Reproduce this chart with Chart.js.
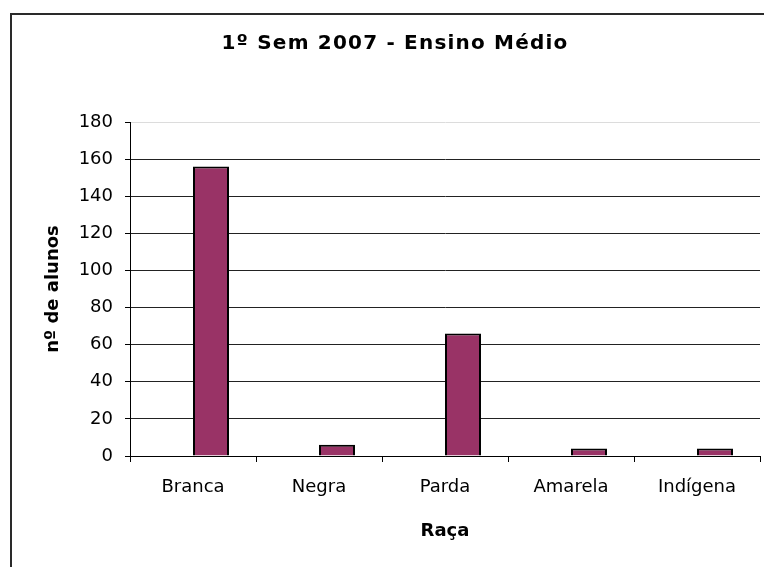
<!DOCTYPE html>
<html lang="pt-BR">
<head>
<meta charset="UTF-8">
<title>1º Sem 2007 - Ensino Médio</title>
<script src="https://cdn.jsdelivr.net/npm/chart.js@4.4.1/dist/chart.umd.min.js"></script>
<style>
  html, body { margin: 0; padding: 0; background: #fff; }
  body { width: 764px; height: 567px; position: relative; overflow: hidden; }
  /* moldura do gráfico (só esquerda e topo aparecem no recorte) */
  .moldura {
    position: absolute; left: 10px; top: 13px; width: 800px; height: 600px;
    border-left: 2px solid #2a2a2a; border-top: 2px solid #2a2a2a;
  }
  #graficoRaca { position: absolute; left: 0; top: 0; }
</style>
</head>
<body>
<div class="moldura"></div>
<canvas id="graficoRaca" width="764" height="567"></canvas>
<script>
const titulo = '1º Sem 2007 - Ensino Médio';
const racas = ['Branca', 'Negra', 'Parda', 'Amarela', 'Indígena'];
const serieVazia = [null, null, null, null, null];
const alunos = [156, 6, 66, 4, 4];
const ticksY = [0, 20, 40, 60, 80, 100, 120, 140, 160, 180];

const fonte = '"DejaVu Sans", "Liberation Sans", Arial, sans-serif';

// título desenhado à mão para ter o espaçamento entre letras do original
const tituloPlugin = {
  id: 'tituloEspacado',
  afterDraw(chart) {
    const ctx = chart.ctx;
    ctx.save();
    ctx.font = 'bold 20px ' + fonte;
    ctx.letterSpacing = '1.2px';
    ctx.fillStyle = '#000';
    ctx.textAlign = 'center';
    ctx.textBaseline = 'middle';
    ctx.fillText(titulo, 395, 44);
    ctx.restore();
  }
};

document.addEventListener('DOMContentLoaded', () => {
  const ctx = document.getElementById('graficoRaca').getContext('2d');

  new Chart(ctx, {
    type: 'bar',
    data: {
      labels: racas,
      datasets: [
        {
          label: '',
          data: serieVazia,
          backgroundColor: '#993366',
          borderColor: '#000',
          borderWidth: 2
        },
        {
          label: 'nº de alunos',
          data: alunos,
          backgroundColor: '#993366',
          borderColor: '#000',
          borderWidth: 2
        }
      ]
    },
    options: {
      responsive: false,
      animation: false,
      categoryPercentage: 0.5714,
      barPercentage: 1,
      layout: {
        padding: { left: 0, right: 4, top: 122, bottom: 0 }
      },
      plugins: {
        legend: { display: false },
        tooltip: { enabled: false },
        title: { display: false }
      },
      scales: {
        x: {
          grid: {
            offset: true,
            drawOnChartArea: false,
            drawTicks: true,
            tickLength: 6,
            tickColor: '#000'
          },
          border: { display: true, color: '#000', width: 1 },
          ticks: {
            color: '#000',
            padding: 15,
            font: { family: fonte, size: 18 }
          },
          title: {
            display: true,
            text: 'Raça',
            color: '#000',
            font: { family: fonte, size: 18, weight: 'bold' },
            padding: { top: 0, bottom: 25 }
          },
          afterFit(scale) { scale.height = 111; }
        },
        y: {
          min: 0,
          max: 180,
          afterBuildTicks(scale) {
            scale.ticks = ticksY.map(v => ({ value: v }));
          },
          grid: {
            color: c => (c.tick && c.tick.value === 180 ? '#dcdcdc' : '#222'),
            tickColor: '#000',
            tickLength: 5,
            lineWidth: 1
          },
          border: { display: true, color: '#000', width: 1 },
          ticks: {
            color: '#000',
            padding: 12,
            font: { family: fonte, size: 18 }
          },
          title: {
            display: true,
            text: 'nº de alunos',
            color: '#000',
            font: { family: fonte, size: 18, weight: 'bold' },
            padding: { top: 43, bottom: 0 }
          },
          afterFit(scale) { scale.width = 130; }
        }
      }
    },
    plugins: [tituloPlugin]
  });
});
</script>
</body>
</html>
